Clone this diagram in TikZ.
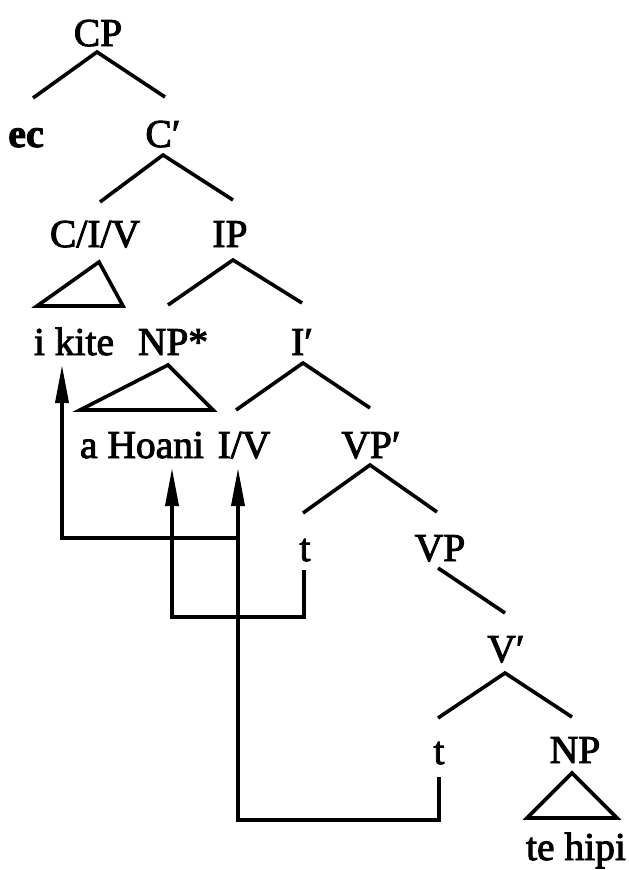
\documentclass[tikz,border=0pt]{standalone}
\usepackage{fontspec}
\setmainfont{Liberation Serif}
\newfontfamily\inkfont{Liberation Serif}[FakeBold=2.4]
\newfontfamily\inkboldfont{Liberation Serif Bold}[FakeBold=2.4]
\usetikzlibrary{calc,arrows.meta}
\tikzset{
  lab/.style={anchor=base, inner sep=0pt, font=\fontsize{39.5}{48}\selectfont\inkfont},
  br/.style={line width=3.6pt, line cap=butt},
  tri/.style={line width=3.6pt, line join=miter},
  mv/.style={line width=3.6pt, line join=miter},
  mvar/.style={mv, -{Triangle[length=38pt,width=13pt]}}
}
\begin{document}
\begin{tikzpicture}[x=1pt,y=-1pt]
\useasboundingbox (0,0) rectangle (629,870);
% labels
\node[lab] (CP) at (98,46) {CP};
\node[lab,font=\fontsize{40}{48}\selectfont\inkboldfont] (ec) at (26,147) {ec};
\node[lab] (Cbar) at (163,147) {C′};
\node[lab] (CIV) at (95,247) {C/I/V};
\node[lab] (IP) at (230,247) {IP};
\node[lab] (ikite) at (74,355) {i kite};
\node[lab] (NPs) at (173,355) {NP*};
\node[lab] (Ibar) at (302,355) {I′};
\node[lab] (aHoani) at (142,458) {a Hoani};
\node[lab] (IV) at (244,458) {I/V};
\node[lab] (VPbar) at (371,458) {VP′};
\node[lab] (t1) at (305,561) {t};
\node[lab] (VP) at (440,561) {VP};
\node[lab] (Vbar) at (506,662) {V′};
\node[lab] (t2) at (439,764) {t};
\node[lab] (NP) at (575,763) {NP};
\node[lab] (tehipi) at (576,860) {te hipi};
% branches
\draw[br] ($(ec.base)+(7,-49)$) -- ($(CP.base)+(-1,6)$) -- ($(Cbar.base)+(2,-50)$);
\draw[br] ($(CIV.base)+(5,-45)$) -- ($(Cbar.base)+(0,8)$) -- ($(IP.base)+(3,-47)$);
\draw[tri] ($(CIV.base)+(4,15)$) -- ($(CIV.base)+(-58,59)$) -- ($(CIV.base)+(28,59)$) -- cycle;
\draw[br] ($(NPs.base)+(-5,-50)$) -- ($(IP.base)+(3,13)$) -- ($(Ibar.base)+(0,-52)$);
\draw[tri] ($(NPs.base)+(-5,10)$) -- ($(NPs.base)+(-93,55)$) -- ($(NPs.base)+(40,55)$) -- cycle;
\draw[br] ($(IV.base)+(-8,-48)$) -- ($(Ibar.base)+(1,8)$) -- ($(VPbar.base)+(-1,-50)$);
\draw[br] ($(t1.base)+(-2,-48)$) -- ($(VPbar.base)+(-1,7)$) -- ($(VP.base)+(-3,-49)$);
\draw[br] ($(VP.base)+(-2,7)$) -- ($(Vbar.base)+(-1,-49)$);
\draw[br] ($(t2.base)+(-1,-46)$) -- ($(Vbar.base)+(-1,11)$) -- ($(NP.base)+(-3,-46)$);
\draw[tri] ($(NP.base)+(-3,10)$) -- ($(NP.base)+(-48,55)$) -- ($(NP.base)+(42,55)$) -- cycle;
% movement arrows
\draw[mvar] ($(t2.base)+(0,13)$) -- ++(0,43) -| ($(IV.base)+(-6,10)$);
\draw[mvar] ($(IV.base)+(-6,80)$) -| ($(ikite.base)+(-12,10)$);
\draw[mvar] ($(t1.base)+(-1,9)$) -- ++(0,47) -| ($(aHoani.base)+(30,10)$);
\end{tikzpicture}
\end{document}
